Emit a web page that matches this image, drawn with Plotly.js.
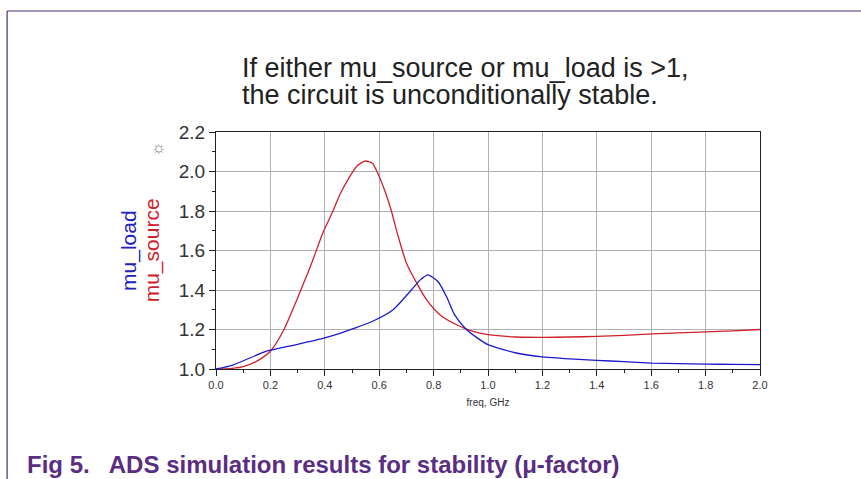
<!DOCTYPE html>
<html>
<head>
<meta charset="utf-8">
<script src="https://cdn.plot.ly/plotly-3.0.1.min.js"></script>
<style>
html,body{margin:0;padding:0;background:#fff;}
#chart{width:861px;height:479px;}
</style>
</head>
<body>
<div id="chart"></div>
<script>
// frequency (GHz) and stability factors
const freqSource = [0.0, 0.05, 0.1, 0.15, 0.2, 0.25, 0.3, 0.35, 0.393, 0.43, 0.456, 0.49, 0.52, 0.548, 0.575, 0.60, 0.64, 0.67, 0.70, 0.738, 0.774, 0.823, 0.884, 0.945, 1.0, 1.104, 1.2, 1.3, 1.4, 1.5, 1.606, 1.7, 1.8, 1.9, 2.0];
const muSource   = [1.0, 1.002, 1.012, 1.04, 1.09, 1.2, 1.36, 1.53, 1.69, 1.80, 1.885, 1.97, 2.03, 2.053, 2.042, 1.975, 1.823, 1.67, 1.537, 1.435, 1.351, 1.275, 1.224, 1.19, 1.174, 1.162, 1.16, 1.162, 1.165, 1.17, 1.178, 1.183, 1.188, 1.193, 1.2];
const freqLoad   = [0.0, 0.062, 0.185, 0.3, 0.393, 0.456, 0.504, 0.578, 0.651, 0.718, 0.75, 0.779, 0.816, 0.847, 0.877, 0.915, 0.963, 1.0, 1.104, 1.2, 1.3, 1.4, 1.5, 1.6, 1.7, 1.8, 1.9, 2.0];
const muLoad     = [1.0, 1.02, 1.09, 1.125, 1.155, 1.18, 1.204, 1.243, 1.30, 1.40, 1.45, 1.477, 1.443, 1.368, 1.275, 1.208, 1.155, 1.123, 1.081, 1.061, 1.051, 1.044, 1.037, 1.03, 1.027, 1.025, 1.023, 1.022];
const xTicks = [0.0, 0.2, 0.4, 0.6, 0.8, 1.0, 1.2, 1.4, 1.6, 1.8, 2.0];
const yTicks = [1.0, 1.2, 1.4, 1.6, 1.8, 2.0, 2.2];

const traces = [
  {x: freqSource, y: muSource, mode: 'lines', name: 'mu_source', line: {color: '#d0202a', width: 1.3, shape: 'spline', smoothing: 0.6}},
  {x: freqLoad, y: muLoad, mode: 'lines', name: 'mu_load', line: {color: '#1a1acc', width: 1.3, shape: 'spline', smoothing: 0.6}}
];

const layout = {
  width: 861, height: 479,
  margin: {l: 216, r: 101, t: 132, b: 110},
  paper_bgcolor: '#fff', plot_bgcolor: '#fff',
  showlegend: false,
  font: {family: 'Liberation Sans, Arial, sans-serif', color: '#333'},
  xaxis: {
    range: [0, 2.0], tickvals: xTicks, ticktext: xTicks.map(v => v.toFixed(1)),
    showgrid: true, gridcolor: '#b0b0b0', gridwidth: 1,
    showline: true, linecolor: '#222', linewidth: 1, mirror: true,
    ticks: 'outside', ticklen: 6, tickcolor: '#222',
    minor: {dtick: 0.1, ticks: 'outside', ticklen: 3, tickcolor: '#222', showgrid: false},
    tickfont: {size: 11, color: '#333'},
    zeroline: false,
    title: {text: 'freq, GHz', font: {size: 10, color: '#333'}, standoff: 8}
  },
  yaxis: {
    range: [1.0, 2.2], tickvals: yTicks, ticktext: yTicks.map(v => v.toFixed(1)),
    showgrid: true, gridcolor: '#b0b0b0', gridwidth: 1,
    showline: true, linecolor: '#222', linewidth: 1, mirror: true,
    ticks: 'outside', ticklen: 6, tickcolor: '#222',
    minor: {dtick: 0.1, ticks: 'outside', ticklen: 3, tickcolor: '#222', showgrid: false},
    tickfont: {size: 19, color: '#333'},
    zeroline: false
  },
  annotations: [
    {xref: 'paper', yref: 'paper', x: -0.161, y: 0.5, text: 'mu_load', textangle: -90, showarrow: false, font: {size: 21, color: '#2020c0'}, xanchor: 'center', yanchor: 'middle'},
    {xref: 'paper', yref: 'paper', x: -0.118, y: 0.5, text: 'mu_source', textangle: -90, showarrow: false, font: {size: 21, color: '#d0202a'}, xanchor: 'center', yanchor: 'middle'},
    {xref: 'paper', yref: 'paper', x: -0.124, y: 0.985, text: '☼', showarrow: false, font: {size: 17, color: '#8a8a8a'}},
    {xref: 'paper', yref: 'paper', x: 0.044, y: 1.272, xanchor: 'left', yanchor: 'middle', showarrow: false,
     text: 'If either mu_source or mu_load is >1,', font: {size: 27, color: '#222'}},
    {xref: 'paper', yref: 'paper', x: 0.044, y: 1.158, xanchor: 'left', yanchor: 'middle', showarrow: false,
     text: 'the circuit is unconditionally stable.', font: {size: 27, color: '#222'}},
    {xref: 'paper', yref: 'paper', x: -0.351, y: -0.405, xanchor: 'left', yanchor: 'middle', showarrow: false,
     text: '<b>Fig 5.   ADS simulation results for stability (μ-factor)</b>', font: {size: 24, color: '#5a2d82'}}
  ],
  shapes: [
    {type: 'line', xref: 'paper', yref: 'paper', x0: -0.384, x1: 1.2, y0: 1.5105, y1: 1.5105, line: {color: '#4b2a7b', width: 1.2}},
    {type: 'line', xref: 'paper', yref: 'paper', x0: -0.384, x1: -0.384, y0: 1.5105, y1: -0.5, line: {color: '#4b2a7b', width: 1.2}}
  ]
};

Plotly.newPlot('chart', traces, layout, {displayModeBar: false, staticPlot: true});
</script>
</body>
</html>
